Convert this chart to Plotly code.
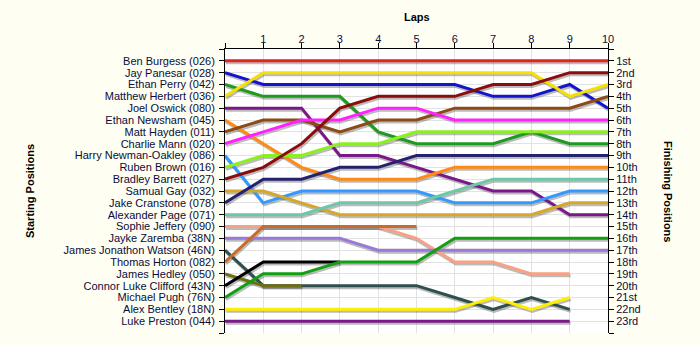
import plotly.graph_objects as go

# Drivers in grid order (starting position 1..23)
drivers = [
    "Ben Burgess (026)", "Jay Panesar (028)", "Ethan Perry (042)", "Matthew Herbert (036)",
    "Joel Oswick (080)", "Ethan Newsham (045)", "Matt Hayden (011)", "Charlie Mann (020)",
    "Harry Newman-Oakley (086)", "Ruben Brown (016)", "Bradley Barrett (027)", "Samual Gay (032)",
    "Jake Cranstone (078)", "Alexander Page (071)", "Sophie Jeffery (090)", "Jayke Zaremba (38N)",
    "James Jonathon Watson (46N)", "Thomas Horton (082)", "James Hedley (050)",
    "Connor Luke Clifford (43N)", "Michael Pugh (76N)", "Alex Bentley (18N)", "Luke Preston (044)",
]

colors = [
    "#e8221c", "#1414cc", "#1e9a1e", "#f5e000", "#7a1888", "#ff8a14", "#8b4a16", "#ff22ff",
    "#3399ff", "#8cf020", "#8a0c0c", "#d6a82a", "#22226e", "#6cc8a8", "#f8a283", "#9a7ad8",
    "#2f4f4f", "#cc6a2a", "#6e6e12", "#000000", "#12a012", "#ffee00", "#7a1888",
]

# Running position at the end of each lap (index 0 = grid)
positions = [
    [1, 1, 1, 1, 1, 1, 1, 1, 1, 1, 1],
    [2, 3, 3, 3, 3, 3, 3, 4, 4, 3, 5],
    [3, 4, 4, 4, 7, 8, 8, 8, 7, 8, 8],
    [4, 2, 2, 2, 2, 2, 2, 2, 2, 4, 3],
    [5, 5, 5, 9, 9, 10, 11, 12, 12, 14, 14],
    [6, 8, 10, 11, 11, 11, 10, 10, 10, 10, 10],
    [7, 6, 6, 7, 6, 6, 5, 5, 5, 5, 4],
    [8, 7, 6, 6, 5, 5, 6, 6, 6, 6, 6],
    [9, 13, 12, 12, 12, 12, 13, 13, 13, 12, 12],
    [10, 9, 9, 8, 8, 7, 7, 7, 7, 7, 7],
    [11, 10, 8, 5, 4, 4, 4, 3, 3, 2, 2],
    [12, 12, 13, 14, 14, 14, 14, 14, 14, 13, 13],
    [13, 11, 11, 10, 10, 9, 9, 9, 9, 9, 9],
    [14, 14, 14, 13, 13, 13, 12, 11, 11, 11, 11],
    [15, 15, 15, 15, 15, 16, 18, 18, 19, 19],
    [16, 16, 16, 16, 17, 17, 17, 17, 17, 17, 17],
    [17, 20, 20, 20, 20, 20, 21, 22, 21, 22],
    [18, 15, 15, 15, 15, 15],
    [19, 20, 20],
    [20, 18, 18, 18],
    [21, 19, 19, 18, 18, 18, 16, 16, 16, 16, 16],
    [22, 22, 22, 22, 22, 22, 22, 21, 22, 21],
    [23, 23, 23, 23, 23, 23, 23, 23, 23, 23],
]

laps = list(range(0, 11))
lap_labels = [""] + [str(i) for i in range(1, 11)]
finish_labels = ["1st", "2nd", "3rd"] + [f"{i}th" for i in range(4, 21)] + ["21st", "22nd", "23rd"]

n = len(drivers)
pos_ticks = list(range(0, n + 2))
start_text = [""] + drivers + [""]
finish_text = [""] + finish_labels + [""]

SHADOW_DX, SHADOW_DY = 0.025, 0.17

fig = go.Figure()

# drop shadows under every line
for pos in positions:
    x = laps[:len(pos)]
    fig.add_trace(go.Scatter(
        x=[v + SHADOW_DX for v in x], y=[p + SHADOW_DY for p in pos],
        mode="lines", line=dict(color="rgba(60,60,60,0.35)", width=3),
        hoverinfo="skip", showlegend=False,
    ))

for name, col, pos in zip(drivers, colors, positions):
    fig.add_trace(go.Scatter(
        x=laps[:len(pos)], y=pos, mode="lines", name=name,
        line=dict(color=col, width=3), showlegend=False,
    ))

# carrier trace for the finishing-position axis
fig.add_trace(go.Scatter(x=laps, y=positions[0], yaxis="y2", mode="lines",
                         line=dict(color="rgba(0,0,0,0)"), hoverinfo="skip", showlegend=False))

tick_font = dict(family="Liberation Sans, Arial, sans-serif", size=11, color="#0c0c3a")
title_font = dict(family="Liberation Sans, Arial", size=11, color="black")

L, R, T, B = 225, 92, 49, 12
W, H = 700, 345
w_plot = W - L - R
h_plot = H - T - B

fig.update_layout(
    width=W, height=H,
    margin=dict(l=L, r=R, t=T, b=B),
    paper_bgcolor="#fefef2",
    plot_bgcolor="#ffffff",
    xaxis=dict(
        side="top", range=[0, 10], tickmode="array", tickvals=laps, ticktext=lap_labels,
        showgrid=True, gridcolor="#e2e2e2", gridwidth=1, zeroline=False,
        showline=True, linecolor="black", linewidth=1,
        ticks="outside", ticklen=5, tickcolor="black", tickfont=tick_font,
        ticklabelstandoff=-4,
    ),
    yaxis=dict(
        range=[n + 1, 0], tickmode="array", tickvals=pos_ticks, ticktext=start_text,
        showgrid=True, gridcolor="#e2e2e2", gridwidth=1, zeroline=False,
        showline=True, linecolor="black", linewidth=1,
        ticks="outside", ticklen=5, tickcolor="black", tickfont=tick_font,
        ticklabelstandoff=2,
    ),
    yaxis2=dict(
        overlaying="y", side="right", range=[n + 1, 0], tickmode="array",
        tickvals=pos_ticks, ticktext=finish_text, showgrid=False, zeroline=False,
        showline=True, linecolor="black", linewidth=1,
        ticks="outside", ticklen=5, tickcolor="black", tickfont=tick_font,
    ),
    annotations=[
        dict(text="<b>Laps</b>", x=0.5, y=1 + (T - 17) / h_plot, xref="paper", yref="paper",
             xanchor="center", yanchor="middle", showarrow=False, font=title_font),
        dict(text="<b>Starting Positions</b>", x=(30 - L) / w_plot, y=0.5,
             xref="paper", yref="paper", xanchor="center", yanchor="middle",
             textangle=-90, showarrow=False, font=title_font),
        dict(text="<b>Finishing Positions</b>", x=(668 - L) / w_plot, y=0.5,
             xref="paper", yref="paper", xanchor="center", yanchor="middle",
             textangle=90, showarrow=False, font=title_font),
    ],
)

fig.write_html("out.html")
